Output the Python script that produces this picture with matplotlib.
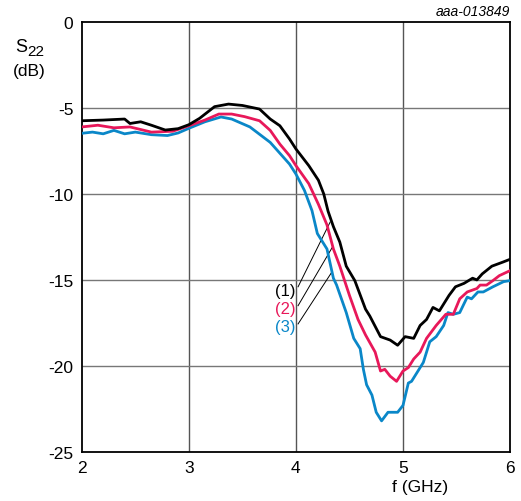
# S22 vs frequency, three curves
import matplotlib.pyplot as plt

plt.rcParams['font.family'] = ['Liberation Sans', 'DejaVu Sans']
plt.rcParams['axes.unicode_minus'] = False

# curve (1) - black
f1 = [2.0, 2.2, 2.4, 2.45, 2.55, 2.65, 2.78, 2.9, 3.0, 3.1, 3.24, 3.37, 3.5, 3.66, 3.76,
      3.85, 3.94, 4.0, 4.12, 4.21, 4.26, 4.3, 4.35, 4.41, 4.47, 4.55, 4.65, 4.69, 4.79,
      4.88, 4.95, 5.02, 5.1, 5.16, 5.22, 5.28, 5.34, 5.43, 5.49, 5.57, 5.65, 5.69, 5.74,
      5.83, 5.93, 6.0]
s1 = [-5.74, -5.7, -5.64, -5.9, -5.8, -6.0, -6.28, -6.2, -5.97, -5.6, -4.92, -4.77, -4.85,
      -5.06, -5.64, -6.03, -6.8, -7.38, -8.35, -9.2, -10.0, -11.0, -11.9, -12.8, -14.2,
      -15.04, -16.7, -17.1, -18.3, -18.5, -18.8, -18.3, -18.4, -17.65, -17.3, -16.6, -16.8,
      -15.9, -15.4, -15.2, -14.9, -15.0, -14.65, -14.2, -13.97, -13.8]

# curve (2) - red
f2 = [2.0, 2.15, 2.3, 2.45, 2.65, 2.85, 3.0, 3.15, 3.28, 3.4, 3.52, 3.66, 3.76, 3.85, 3.94,
      4.0, 4.12, 4.21, 4.29, 4.35, 4.41, 4.5, 4.58, 4.65, 4.74, 4.79, 4.83, 4.88, 4.94, 5.0,
      5.05, 5.1, 5.16, 5.22, 5.31, 5.4, 5.47, 5.53, 5.6, 5.69, 5.72, 5.78, 5.84, 5.9, 6.0]
s2 = [-6.1, -6.0, -6.15, -6.1, -6.4, -6.35, -6.03, -5.7, -5.35, -5.35, -5.5, -5.74, -6.3,
      -7.1, -7.77, -8.35, -9.4, -10.6, -11.8, -13.2, -14.2, -15.9, -17.3, -18.2, -19.2,
      -20.3, -20.2, -20.6, -20.9, -20.3, -20.1, -19.6, -19.2, -18.4, -17.65, -17.0, -17.0,
      -16.1, -15.7, -15.5, -15.3, -15.3, -15.04, -14.75, -14.46]

# curve (3) - blue
f3 = [2.0, 2.1, 2.2, 2.3, 2.4, 2.5, 2.65, 2.8, 2.9, 3.0, 3.15, 3.3, 3.4, 3.57, 3.76, 3.94,
      4.0, 4.08, 4.15, 4.2, 4.29, 4.35, 4.38, 4.47, 4.54, 4.6, 4.63, 4.66, 4.71, 4.75, 4.8,
      4.86, 4.95, 5.0, 5.05, 5.08, 5.13, 5.19, 5.25, 5.31, 5.38, 5.42, 5.47, 5.53, 5.6,
      5.64, 5.7, 5.75, 5.84, 5.94, 6.0]
s3 = [-6.47, -6.4, -6.5, -6.3, -6.5, -6.4, -6.55, -6.6, -6.45, -6.18, -5.8, -5.52, -5.64,
      -6.1, -7.0, -8.26, -8.84, -9.8, -10.97, -12.3, -13.2, -14.9, -15.3, -16.9, -18.4,
      -19.0, -20.2, -21.1, -21.7, -22.7, -23.2, -22.7, -22.7, -22.3, -21.0, -20.9, -20.4,
      -19.8, -18.6, -18.3, -17.65, -16.9, -17.0, -16.9, -16.0, -16.1, -15.7, -15.7, -15.4,
      -15.1, -15.04]

labels = ['(1)', '(2)', '(3)']
colors = ['black', '#e8185a', '#0a87c8']

fig = plt.figure(figsize=(5.21, 5.02), dpi=100)
ax = fig.add_axes([0.157, 0.098, 0.822, 0.856])

for x in [3, 4, 5]:
    ax.axvline(x, color='#555555', lw=1, zorder=1)
for y in [-5, -10, -15, -20]:
    ax.axhline(y, color='#777777', lw=1, zorder=1)

ax.plot(f3, s3, color=colors[2], lw=2, zorder=3)
ax.plot(f2, s2, color=colors[1], lw=2, zorder=3)
ax.plot(f1, s1, color=colors[0], lw=2, zorder=3)

# callout lines and labels
ends = [(4.32, -11.63), (4.34, -13.1), (4.34, -14.5)]
starts = [(4.02, -15.4), (4.02, -16.5), (4.02, -17.56)]
label_y = [-15.6, -16.65, -17.7]
for i in range(3):
    ax.plot([starts[i][0], ends[i][0]], [starts[i][1], ends[i][1]], color='black', lw=0.7, zorder=2)
    ax.text(3.995, label_y[i], labels[i], color=colors[i], fontsize=12, ha='right', va='center',
            zorder=4)

ax.set_xlim(2, 6)
ax.set_ylim(-25, 0)
ax.set_xticks([2, 3, 4, 5, 6])
ax.set_yticks([0, -5, -10, -15, -20, -25])
ax.tick_params(length=0, labelsize=12.5, pad=6)
for sp in ax.spines.values():
    sp.set_linewidth(1.3)

fig.text(0.052, 0.905, 'S', fontsize=13, ha='right', va='center')
fig.text(0.052, 0.897, '22', fontsize=11, ha='left', va='center')
fig.text(0.057, 0.858, '(dB)', fontsize=12.5, ha='center', va='center')
fig.text(0.806, 0.028, 'f (GHz)', fontsize=12.5, ha='center', va='center')
fig.text(0.979, 0.977, 'aaa-013849', fontsize=10, style='italic', ha='right', va='center')

fig.savefig('out.png', dpi=100)
